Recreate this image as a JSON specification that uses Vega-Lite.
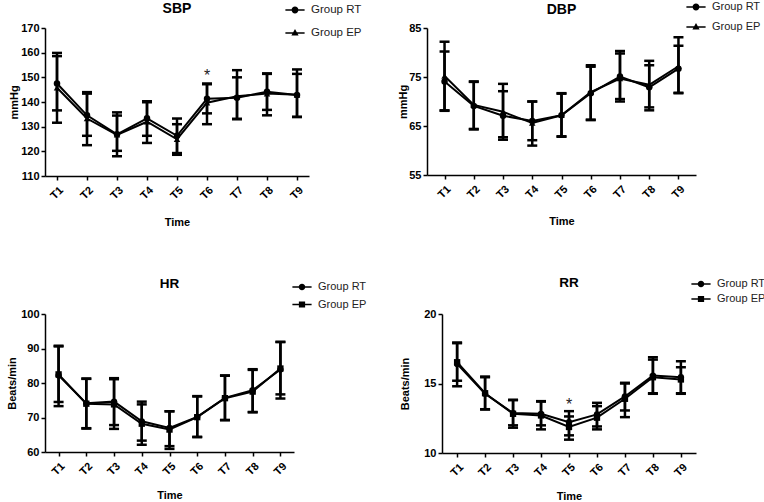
{
  "$schema": "https://vega.github.io/schema/vega-lite/v6.json",
  "background": "white",
  "padding": {"left": 6, "top": 0, "right": 0, "bottom": 0},
  "config": {
    "font": "Liberation Sans",
    "view": {"stroke": null},
    "axis": {"grid": false, "domainColor": "#000", "domainWidth": 1.5, "tickColor": "#000", "tickWidth": 1.5, "tickSize": 4,
      "labelFont": "Liberation Sans", "labelFontSize": 11, "labelFontWeight": "bold", "labelColor": "#000", "labelPadding": 2,
      "titleFont": "Liberation Sans", "titleFontSize": 11, "titleFontWeight": "bold", "titleColor": "#000"},
    "axisX": {"labelAngle": -45, "labelPadding": 4, "titlePadding": 16},
    "legend": {"padding": 0, "labelFont": "Liberation Sans", "labelFontSize": 11, "labelColor": "#222", "symbolSize": 144, "labelOffset": 9, "symbolOpacity": 1, "symbolFillColor": "black"},
    "title": {"font": "Liberation Sans", "fontSize": 14, "fontWeight": "bold", "color": "#000", "anchor": "middle", "baseline": "alphabetic", "frame": "group"}
  },
  "datasets": {
    "d": [
      {"panel": "SBP", "time": "T1", "group": "Group RT", "mean": 147.5, "lo": 136.6, "hi": 158.6},
      {"panel": "SBP", "time": "T2", "group": "Group RT", "mean": 134.6, "lo": 126.3, "hi": 143.4},
      {"panel": "SBP", "time": "T3", "group": "Group RT", "mean": 126.9, "lo": 118.0, "hi": 135.8},
      {"panel": "SBP", "time": "T4", "group": "Group RT", "mean": 133.4, "lo": 126.3, "hi": 140.3},
      {"panel": "SBP", "time": "T5", "group": "Group RT", "mean": 126.3, "lo": 119.3, "hi": 133.3},
      {"panel": "SBP", "time": "T6", "group": "Group RT", "mean": 141.3, "lo": 135.4, "hi": 147.5},
      {"panel": "SBP", "time": "T7", "group": "Group RT", "mean": 141.7, "lo": 133.2, "hi": 150.0},
      {"panel": "SBP", "time": "T8", "group": "Group RT", "mean": 144.2, "lo": 136.8, "hi": 151.6},
      {"panel": "SBP", "time": "T9", "group": "Group RT", "mean": 142.8, "lo": 134.0, "hi": 151.4},
      {"panel": "SBP", "time": "T1", "group": "Group EP", "mean": 145.8, "lo": 131.6, "hi": 159.9},
      {"panel": "SBP", "time": "T2", "group": "Group EP", "mean": 133.3, "lo": 122.5, "hi": 144.0},
      {"panel": "SBP", "time": "T3", "group": "Group EP", "mean": 126.7, "lo": 120.2, "hi": 134.5},
      {"panel": "SBP", "time": "T4", "group": "Group EP", "mean": 132.0, "lo": 123.4, "hi": 139.9},
      {"panel": "SBP", "time": "T5", "group": "Group EP", "mean": 124.9, "lo": 118.6, "hi": 131.0},
      {"panel": "SBP", "time": "T6", "group": "Group EP", "mean": 139.7, "lo": 131.0, "hi": 147.2},
      {"panel": "SBP", "time": "T7", "group": "Group EP", "mean": 142.3, "lo": 133.0, "hi": 152.9},
      {"panel": "SBP", "time": "T8", "group": "Group EP", "mean": 143.4, "lo": 134.6, "hi": 151.4},
      {"panel": "SBP", "time": "T9", "group": "Group EP", "mean": 142.9, "lo": 133.9, "hi": 153.2},

      {"panel": "DBP", "time": "T1", "group": "Group RT", "mean": 74.1, "lo": 68.1, "hi": 80.2},
      {"panel": "DBP", "time": "T2", "group": "Group RT", "mean": 69.1, "lo": 64.3, "hi": 74.0},
      {"panel": "DBP", "time": "T3", "group": "Group RT", "mean": 67.1, "lo": 62.2, "hi": 72.1},
      {"panel": "DBP", "time": "T4", "group": "Group RT", "mean": 66.0, "lo": 62.1, "hi": 70.0},
      {"panel": "DBP", "time": "T5", "group": "Group RT", "mean": 67.2, "lo": 62.8, "hi": 71.7},
      {"panel": "DBP", "time": "T6", "group": "Group RT", "mean": 71.7, "lo": 66.2, "hi": 77.1},
      {"panel": "DBP", "time": "T7", "group": "Group RT", "mean": 75.1, "lo": 70.0, "hi": 80.3},
      {"panel": "DBP", "time": "T8", "group": "Group RT", "mean": 72.9, "lo": 68.2, "hi": 77.4},
      {"panel": "DBP", "time": "T9", "group": "Group RT", "mean": 76.7, "lo": 71.7, "hi": 81.4},
      {"panel": "DBP", "time": "T1", "group": "Group EP", "mean": 75.2, "lo": 68.2, "hi": 82.2},
      {"panel": "DBP", "time": "T2", "group": "Group EP", "mean": 69.3, "lo": 64.4, "hi": 74.1},
      {"panel": "DBP", "time": "T3", "group": "Group EP", "mean": 67.9, "lo": 62.7, "hi": 73.6},
      {"panel": "DBP", "time": "T4", "group": "Group EP", "mean": 65.6, "lo": 61.0, "hi": 70.0},
      {"panel": "DBP", "time": "T5", "group": "Group EP", "mean": 67.2, "lo": 62.9, "hi": 71.6},
      {"panel": "DBP", "time": "T6", "group": "Group EP", "mean": 71.9, "lo": 66.3, "hi": 77.4},
      {"panel": "DBP", "time": "T7", "group": "Group EP", "mean": 74.7, "lo": 70.5, "hi": 79.8},
      {"panel": "DBP", "time": "T8", "group": "Group EP", "mean": 73.4, "lo": 68.8, "hi": 78.3},
      {"panel": "DBP", "time": "T9", "group": "Group EP", "mean": 77.2, "lo": 71.8, "hi": 83.1},

      {"panel": "HR", "time": "T1", "group": "Group RT", "mean": 82.2, "lo": 73.3, "hi": 90.6},
      {"panel": "HR", "time": "T2", "group": "Group RT", "mean": 74.1, "lo": 66.8, "hi": 81.3},
      {"panel": "HR", "time": "T3", "group": "Group RT", "mean": 74.6, "lo": 67.8, "hi": 81.4},
      {"panel": "HR", "time": "T4", "group": "Group RT", "mean": 68.9, "lo": 63.3, "hi": 74.6},
      {"panel": "HR", "time": "T5", "group": "Group RT", "mean": 67.0, "lo": 61.7, "hi": 71.8},
      {"panel": "HR", "time": "T6", "group": "Group RT", "mean": 70.2, "lo": 64.3, "hi": 76.2},
      {"panel": "HR", "time": "T7", "group": "Group RT", "mean": 75.7, "lo": 69.2, "hi": 82.2},
      {"panel": "HR", "time": "T8", "group": "Group RT", "mean": 77.9, "lo": 71.6, "hi": 84.0},
      {"panel": "HR", "time": "T9", "group": "Group RT", "mean": 83.9, "lo": 75.5, "hi": 91.9},
      {"panel": "HR", "time": "T1", "group": "Group EP", "mean": 82.5, "lo": 74.5, "hi": 90.8},
      {"panel": "HR", "time": "T2", "group": "Group EP", "mean": 74.0, "lo": 66.9, "hi": 81.2},
      {"panel": "HR", "time": "T3", "group": "Group EP", "mean": 73.8, "lo": 66.7, "hi": 81.1},
      {"panel": "HR", "time": "T4", "group": "Group EP", "mean": 68.2, "lo": 62.1, "hi": 73.8},
      {"panel": "HR", "time": "T5", "group": "Group EP", "mean": 66.5, "lo": 60.9, "hi": 71.8},
      {"panel": "HR", "time": "T6", "group": "Group EP", "mean": 70.1, "lo": 64.4, "hi": 76.1},
      {"panel": "HR", "time": "T7", "group": "Group EP", "mean": 75.6, "lo": 69.3, "hi": 82.1},
      {"panel": "HR", "time": "T8", "group": "Group EP", "mean": 77.5, "lo": 71.5, "hi": 83.8},
      {"panel": "HR", "time": "T9", "group": "Group EP", "mean": 84.2, "lo": 76.7, "hi": 91.9},

      {"panel": "RR", "time": "T1", "group": "Group RT", "mean": 16.41, "lo": 14.8, "hi": 17.9},
      {"panel": "RR", "time": "T2", "group": "Group RT", "mean": 14.26, "lo": 13.13, "hi": 15.5},
      {"panel": "RR", "time": "T3", "group": "Group RT", "mean": 12.87, "lo": 11.99, "hi": 13.83},
      {"panel": "RR", "time": "T4", "group": "Group RT", "mean": 12.82, "lo": 11.99, "hi": 13.73},
      {"panel": "RR", "time": "T5", "group": "Group RT", "mean": 12.22, "lo": 11.27, "hi": 13.01},
      {"panel": "RR", "time": "T6", "group": "Group RT", "mean": 12.78, "lo": 11.91, "hi": 13.61},
      {"panel": "RR", "time": "T7", "group": "Group RT", "mean": 14.07, "lo": 13.06, "hi": 15.05},
      {"panel": "RR", "time": "T8", "group": "Group RT", "mean": 15.57, "lo": 14.26, "hi": 16.89},
      {"panel": "RR", "time": "T9", "group": "Group RT", "mean": 15.45, "lo": 14.26, "hi": 16.6},
      {"panel": "RR", "time": "T1", "group": "Group EP", "mean": 16.53, "lo": 15.2, "hi": 17.95},
      {"panel": "RR", "time": "T2", "group": "Group EP", "mean": 14.3, "lo": 13.15, "hi": 15.45},
      {"panel": "RR", "time": "T3", "group": "Group EP", "mean": 12.82, "lo": 11.82, "hi": 13.8},
      {"panel": "RR", "time": "T4", "group": "Group EP", "mean": 12.7, "lo": 11.7, "hi": 13.7},
      {"panel": "RR", "time": "T5", "group": "Group EP", "mean": 11.87, "lo": 10.96, "hi": 12.63},
      {"panel": "RR", "time": "T6", "group": "Group EP", "mean": 12.54, "lo": 11.7, "hi": 13.37},
      {"panel": "RR", "time": "T7", "group": "Group EP", "mean": 13.9, "lo": 12.58, "hi": 15.0},
      {"panel": "RR", "time": "T8", "group": "Group EP", "mean": 15.45, "lo": 14.3, "hi": 16.72},
      {"panel": "RR", "time": "T9", "group": "Group EP", "mean": 15.29, "lo": 14.3, "hi": 16.17}
    ],
    "stars": [
      {"panel": "SBP", "time": "T6", "y": 150.6, "label": "*"},
      {"panel": "RR", "time": "T5", "y": 13.45, "label": "*"}
    ]
  },
  "vconcat": [
    {
      "hconcat": [
        {
          "width": 264, "height": 148,
          "title": {"text": "SBP", "offset": -12.5},
          "data": {"name": "d"},
          "transform": [{"filter": "datum.panel === 'SBP'"}],
          "encoding": {"x": {"field": "time", "type": "ordinal", "scale": {"type": "point", "padding": 0.4}, "axis": {"title": "Time"}}},
          "resolve": {"scale": {"shape": "independent"}, "legend": {"shape": "independent"}},
          "layer": [
            {"mark": {"type": "line", "color": "black", "strokeWidth": 2},
             "encoding": {"y": {"field": "mean", "type": "quantitative", "scale": {"domain": [110, 170], "nice": false, "zero": false}, "axis": {"title": "mmHg", "values": [110, 120, 130, 140, 150, 160, 170], "titlePadding": 1}}, "detail": {"field": "group"}}},
            {"mark": {"type": "rule", "color": "black", "strokeWidth": 2.5},
             "encoding": {"y": {"field": "lo", "type": "quantitative", "scale": {"domain": [110, 170], "nice": false, "zero": false}, "axis": {"title": "mmHg", "values": [110, 120, 130, 140, 150, 160, 170], "titlePadding": 1}}, "y2": {"field": "hi"}}},
            {"mark": {"type": "tick", "orient": "horizontal", "color": "black", "thickness": 2.5, "size": 10, "opacity": 1},
             "encoding": {"y": {"field": "lo", "type": "quantitative", "scale": {"domain": [110, 170], "nice": false, "zero": false}, "axis": {"title": "mmHg", "values": [110, 120, 130, 140, 150, 160, 170], "titlePadding": 1}}}},
            {"mark": {"type": "tick", "orient": "horizontal", "color": "black", "thickness": 2.5, "size": 10, "opacity": 1},
             "encoding": {"y": {"field": "hi", "type": "quantitative", "scale": {"domain": [110, 170], "nice": false, "zero": false}, "axis": {"title": "mmHg", "values": [110, 120, 130, 140, 150, 160, 170], "titlePadding": 1}}}},
            {"mark": {"type": "point", "filled": true, "color": "black", "size": 42, "opacity": 1},
             "encoding": {"y": {"field": "mean", "type": "quantitative", "scale": {"domain": [110, 170], "nice": false, "zero": false}, "axis": {"title": "mmHg", "values": [110, 120, 130, 140, 150, 160, 170], "titlePadding": 1}},
               "shape": {"field": "group", "type": "nominal", "scale": {"domain": ["Group RT", "Group EP"], "range": ["circle", "triangle-up"]}, "legend": null}}},
            {"transform": [{"filter": "false"}],
             "mark": {"type": "point", "filled": true, "color": "black"},
             "encoding": {"y": {"field": "mean", "type": "quantitative", "scale": {"domain": [110, 170], "nice": false, "zero": false}, "axis": {"title": "mmHg", "values": [110, 120, 130, 140, 150, 160, 170], "titlePadding": 1}},
               "shape": {"field": "group", "type": "nominal", "scale": {"domain": ["Group RT", "Group EP"], "range": ["M-1.6,-0.12H1.6V0.12H-1.6ZM-0.57,0A0.57,0.57,0,1,1,0.57,0A0.57,0.57,0,1,1,-0.57,0Z", "M-1.6,-0.12H1.6V0.12H-1.6ZM0,-0.65L0.6,0.42L-0.6,0.42Z"]},
                 "legend": {"title": null, "orient": "none", "legendX": 243, "legendY": -25, "rowPadding": 9, "labelFontSize": 11.5}}}},
            {"data": {"name": "stars"}, "transform": [{"filter": "datum.panel === 'SBP'"}],
             "mark": {"type": "text", "fontSize": 16, "font": "Liberation Sans", "color": "#222", "baseline": "middle"},
             "encoding": {"text": {"field": "label"}, "y": {"field": "y", "type": "quantitative", "scale": {"domain": [110, 170], "nice": false, "zero": false}, "axis": {"title": "mmHg", "values": [110, 120, 130, 140, 150, 160, 170], "titlePadding": 1}}}}
          ]
        },
        {
          "width": 269, "height": 147,
          "title": {"text": "DBP", "offset": -17},
          "data": {"name": "d"},
          "transform": [{"filter": "datum.panel === 'DBP'"}],
          "encoding": {"x": {"field": "time", "type": "ordinal", "scale": {"type": "point", "padding": 0.6}, "axis": {"title": "Time"}}},
          "resolve": {"scale": {"shape": "independent"}, "legend": {"shape": "independent"}},
          "layer": [
            {"mark": {"type": "line", "color": "black", "strokeWidth": 2},
             "encoding": {"y": {"field": "mean", "type": "quantitative", "scale": {"domain": [55, 85], "nice": false, "zero": false}, "axis": {"title": "mmHg", "values": [55, 65, 75, 85], "titlePadding": 0}}, "detail": {"field": "group"}}},
            {"mark": {"type": "rule", "color": "black", "strokeWidth": 2.5},
             "encoding": {"y": {"field": "lo", "type": "quantitative", "scale": {"domain": [55, 85], "nice": false, "zero": false}, "axis": {"title": "mmHg", "values": [55, 65, 75, 85], "titlePadding": 0}}, "y2": {"field": "hi"}}},
            {"mark": {"type": "tick", "orient": "horizontal", "color": "black", "thickness": 2.5, "size": 10, "opacity": 1},
             "encoding": {"y": {"field": "lo", "type": "quantitative", "scale": {"domain": [55, 85], "nice": false, "zero": false}, "axis": {"title": "mmHg", "values": [55, 65, 75, 85], "titlePadding": 0}}}},
            {"mark": {"type": "tick", "orient": "horizontal", "color": "black", "thickness": 2.5, "size": 10, "opacity": 1},
             "encoding": {"y": {"field": "hi", "type": "quantitative", "scale": {"domain": [55, 85], "nice": false, "zero": false}, "axis": {"title": "mmHg", "values": [55, 65, 75, 85], "titlePadding": 0}}}},
            {"mark": {"type": "point", "filled": true, "color": "black", "size": 42, "opacity": 1},
             "encoding": {"y": {"field": "mean", "type": "quantitative", "scale": {"domain": [55, 85], "nice": false, "zero": false}, "axis": {"title": "mmHg", "values": [55, 65, 75, 85], "titlePadding": 0}},
               "shape": {"field": "group", "type": "nominal", "scale": {"domain": ["Group RT", "Group EP"], "range": ["circle", "triangle-up"]}, "legend": null}}},
            {"transform": [{"filter": "false"}],
             "mark": {"type": "point", "filled": true, "color": "black"},
             "encoding": {"y": {"field": "mean", "type": "quantitative", "scale": {"domain": [55, 85], "nice": false, "zero": false}, "axis": {"title": "mmHg", "values": [55, 65, 75, 85], "titlePadding": 0}},
               "shape": {"field": "group", "type": "nominal", "scale": {"domain": ["Group RT", "Group EP"], "range": ["M-1.6,-0.12H1.6V0.12H-1.6ZM-0.57,0A0.57,0.57,0,1,1,0.57,0A0.57,0.57,0,1,1,-0.57,0Z", "M-1.6,-0.12H1.6V0.12H-1.6ZM0,-0.65L0.6,0.42L-0.6,0.42Z"]},
                 "legend": {"title": null, "orient": "none", "legendX": 262, "legendY": -28, "rowPadding": 6}}}}
          ]
        }
      ],
      "spacing": 118,
      "bounds": "flush",
      "resolve": {"scale": {"shape": "independent"}, "legend": {"shape": "independent"}}
    },
    {
      "hconcat": [
        {
          "width": 249, "height": 138,
          "title": {"text": "HR", "offset": -10, "fontSize": 13.5},
          "data": {"name": "d"},
          "transform": [{"filter": "datum.panel === 'HR'"}],
          "encoding": {"x": {"field": "time", "type": "ordinal", "scale": {"type": "point", "padding": 0.49}, "axis": {"title": "Time", "titlePadding": 13}}},
          "resolve": {"scale": {"shape": "independent"}, "legend": {"shape": "independent"}},
          "layer": [
            {"mark": {"type": "line", "color": "black", "strokeWidth": 2},
             "encoding": {"y": {"field": "mean", "type": "quantitative", "scale": {"domain": [60, 100], "nice": false, "zero": false}, "axis": {"title": "Beats/min", "values": [60, 70, 80, 90, 100], "titlePadding": 3}}, "detail": {"field": "group"}}},
            {"mark": {"type": "rule", "color": "black", "strokeWidth": 2.5},
             "encoding": {"y": {"field": "lo", "type": "quantitative", "scale": {"domain": [60, 100], "nice": false, "zero": false}, "axis": {"title": "Beats/min", "values": [60, 70, 80, 90, 100], "titlePadding": 3}}, "y2": {"field": "hi"}}},
            {"mark": {"type": "tick", "orient": "horizontal", "color": "black", "thickness": 2.5, "size": 10, "opacity": 1},
             "encoding": {"y": {"field": "lo", "type": "quantitative", "scale": {"domain": [60, 100], "nice": false, "zero": false}, "axis": {"title": "Beats/min", "values": [60, 70, 80, 90, 100], "titlePadding": 3}}}},
            {"mark": {"type": "tick", "orient": "horizontal", "color": "black", "thickness": 2.5, "size": 10, "opacity": 1},
             "encoding": {"y": {"field": "hi", "type": "quantitative", "scale": {"domain": [60, 100], "nice": false, "zero": false}, "axis": {"title": "Beats/min", "values": [60, 70, 80, 90, 100], "titlePadding": 3}}}},
            {"mark": {"type": "point", "filled": true, "color": "black", "size": 40, "opacity": 1},
             "encoding": {"y": {"field": "mean", "type": "quantitative", "scale": {"domain": [60, 100], "nice": false, "zero": false}, "axis": {"title": "Beats/min", "values": [60, 70, 80, 90, 100], "titlePadding": 3}},
               "shape": {"field": "group", "type": "nominal", "scale": {"domain": ["Group RT", "Group EP"], "range": ["circle", "square"]}, "legend": null}}},
            {"transform": [{"filter": "false"}],
             "mark": {"type": "point", "filled": true, "color": "black"},
             "encoding": {"y": {"field": "mean", "type": "quantitative", "scale": {"domain": [60, 100], "nice": false, "zero": false}, "axis": {"title": "Beats/min", "values": [60, 70, 80, 90, 100], "titlePadding": 3}},
               "shape": {"field": "group", "type": "nominal", "scale": {"domain": ["Group RT", "Group EP"], "range": ["M-1.6,-0.12H1.6V0.12H-1.6ZM-0.55,0A0.55,0.55,0,1,1,0.55,0A0.55,0.55,0,1,1,-0.55,0Z", "M-1.6,-0.12H1.6V0.12H-1.6ZM-0.52,-0.52H0.52V0.52H-0.52Z"]},
                 "legend": {"title": null, "orient": "none", "legendX": 250, "legendY": -34, "rowPadding": 3.5}}}}
          ]
        },
        {
          "width": 254, "height": 139,
          "title": {"text": "RR", "offset": -12, "fontSize": 13.5},
          "data": {"name": "d"},
          "transform": [{"filter": "datum.panel === 'RR'"}],
          "encoding": {"x": {"field": "time", "type": "ordinal", "scale": {"type": "point", "padding": 0.54}, "axis": {"title": "Time", "titlePadding": 13}}},
          "resolve": {"scale": {"shape": "independent"}, "legend": {"shape": "independent"}},
          "layer": [
            {"mark": {"type": "line", "color": "black", "strokeWidth": 2},
             "encoding": {"y": {"field": "mean", "type": "quantitative", "scale": {"domain": [10, 20], "nice": false, "zero": false}, "axis": {"title": "Beats/min", "values": [10, 15, 20], "titlePadding": 13}}, "detail": {"field": "group"}}},
            {"mark": {"type": "rule", "color": "black", "strokeWidth": 2.5},
             "encoding": {"y": {"field": "lo", "type": "quantitative", "scale": {"domain": [10, 20], "nice": false, "zero": false}, "axis": {"title": "Beats/min", "values": [10, 15, 20], "titlePadding": 13}}, "y2": {"field": "hi"}}},
            {"mark": {"type": "tick", "orient": "horizontal", "color": "black", "thickness": 2.5, "size": 10, "opacity": 1},
             "encoding": {"y": {"field": "lo", "type": "quantitative", "scale": {"domain": [10, 20], "nice": false, "zero": false}, "axis": {"title": "Beats/min", "values": [10, 15, 20], "titlePadding": 13}}}},
            {"mark": {"type": "tick", "orient": "horizontal", "color": "black", "thickness": 2.5, "size": 10, "opacity": 1},
             "encoding": {"y": {"field": "hi", "type": "quantitative", "scale": {"domain": [10, 20], "nice": false, "zero": false}, "axis": {"title": "Beats/min", "values": [10, 15, 20], "titlePadding": 13}}}},
            {"mark": {"type": "point", "filled": true, "color": "black", "size": 40, "opacity": 1},
             "encoding": {"y": {"field": "mean", "type": "quantitative", "scale": {"domain": [10, 20], "nice": false, "zero": false}, "axis": {"title": "Beats/min", "values": [10, 15, 20], "titlePadding": 13}},
               "shape": {"field": "group", "type": "nominal", "scale": {"domain": ["Group RT", "Group EP"], "range": ["circle", "square"]}, "legend": null}}},
            {"transform": [{"filter": "false"}],
             "mark": {"type": "point", "filled": true, "color": "black"},
             "encoding": {"y": {"field": "mean", "type": "quantitative", "scale": {"domain": [10, 20], "nice": false, "zero": false}, "axis": {"title": "Beats/min", "values": [10, 15, 20], "titlePadding": 13}},
               "shape": {"field": "group", "type": "nominal", "scale": {"domain": ["Group RT", "Group EP"], "range": ["M-1.6,-0.12H1.6V0.12H-1.6ZM-0.55,0A0.55,0.55,0,1,1,0.55,0A0.55,0.55,0,1,1,-0.55,0Z", "M-1.6,-0.12H1.6V0.12H-1.6ZM-0.52,-0.52H0.52V0.52H-0.52Z"]},
                 "legend": {"title": null, "orient": "none", "legendX": 252, "legendY": -37, "rowPadding": 1}}}},
            {"data": {"name": "stars"}, "transform": [{"filter": "datum.panel === 'RR'"}],
             "mark": {"type": "text", "fontSize": 16, "font": "Liberation Sans", "color": "#222", "baseline": "middle"},
             "encoding": {"text": {"field": "label"}, "y": {"field": "y", "type": "quantitative", "scale": {"domain": [10, 20], "nice": false, "zero": false}, "axis": {"title": "Beats/min", "values": [10, 15, 20], "titlePadding": 13}}}}
          ]
        }
      ],
      "spacing": 148,
      "bounds": "flush",
      "resolve": {"scale": {"shape": "independent"}, "legend": {"shape": "independent"}}
    }
  ],
  "spacing": 47,
  "resolve": {"scale": {"shape": "independent"}, "legend": {"shape": "independent"}}
}
